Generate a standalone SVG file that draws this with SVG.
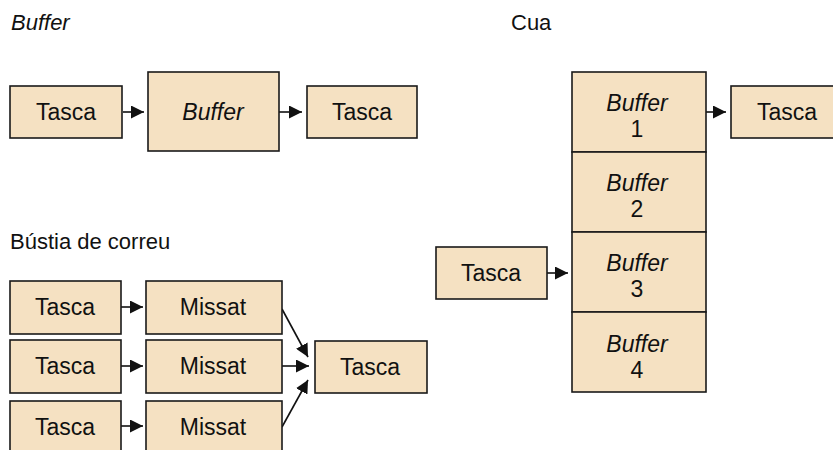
<svg xmlns="http://www.w3.org/2000/svg" width="833" height="450" viewBox="0 0 833 450">
<defs>
<style>
.box{fill:#F5E1C2;stroke:#1a1a1a;stroke-width:1.6}
.t{font-family:"Liberation Sans",Arial,sans-serif;font-size:23px;fill:#111;text-anchor:middle}
.i{font-style:italic}
.ttl{font-family:"Liberation Sans",Arial,sans-serif;font-size:22px;fill:#111}
.c{stroke:#111;stroke-width:1.6;fill:none;marker-end:url(#ah)}
</style>
<marker id="ah" viewBox="0 0 13 13" refX="13" refY="6.5" markerWidth="13" markerHeight="13" markerUnits="userSpaceOnUse" orient="auto">
<path d="M0,0 L13,6.5 L0,13 Z" fill="#111"/>
</marker>
</defs>
<rect width="833" height="450" fill="#fff"/>
<text class="ttl" x="11" y="30" font-style="italic">Buffer</text>
<text class="ttl" x="511" y="30">Cua</text>
<text class="ttl" x="10" y="249">Bústia de correu</text>

<g id="connectors">
<line class="c" x1="123" y1="112" x2="144" y2="112"/>
<line class="c" x1="279" y1="112" x2="302" y2="112"/>
<line class="c" x1="121" y1="307" x2="143" y2="307"/>
<line class="c" x1="121" y1="366" x2="143" y2="366"/>
<line class="c" x1="121" y1="426" x2="143" y2="426"/>
<line class="c" x1="282" y1="309" x2="308" y2="357"/>
<line class="c" x1="282" y1="366" x2="309" y2="366"/>
<line class="c" x1="282" y1="427" x2="308" y2="380"/>
<line class="c" x1="706" y1="112" x2="726" y2="112"/>
<line class="c" x1="547" y1="273" x2="568" y2="273"/>
</g>

<g id="buf-tasca1"><rect class="box" x="10" y="86" width="112" height="52"/><text class="t" x="66" y="120">Tasca</text></g>
<g id="buf-buffer"><rect class="box" x="148" y="72" width="131" height="79"/><text class="t i" x="213" y="120">Buffer</text></g>
<g id="buf-tasca2"><rect class="box" x="307" y="86" width="110" height="52"/><text class="t" x="362" y="120">Tasca</text></g>

<g id="mb-tasca1"><rect class="box" x="10" y="281" width="111" height="53"/><text class="t" x="65" y="315">Tasca</text></g>
<g id="mb-tasca2"><rect class="box" x="10" y="340" width="111" height="53"/><text class="t" x="65" y="374">Tasca</text></g>
<g id="mb-tasca3"><rect class="box" x="10" y="401" width="111" height="53"/><text class="t" x="65" y="435">Tasca</text></g>
<g id="mb-missat1"><rect class="box" x="146" y="281" width="136" height="53"/><text class="t" x="213" y="315">Missat</text></g>
<g id="mb-missat2"><rect class="box" x="146" y="340" width="136" height="53"/><text class="t" x="213" y="374">Missat</text></g>
<g id="mb-missat3"><rect class="box" x="146" y="401" width="136" height="53"/><text class="t" x="213" y="435">Missat</text></g>
<g id="mb-tasca-out"><rect class="box" x="315" y="341" width="112" height="52"/><text class="t" x="370" y="375">Tasca</text></g>

<g id="cua-buffer1"><rect class="box" x="572" y="72" width="134" height="80"/><text class="t i" x="637" y="111">Buffer</text><text class="t" x="637" y="137">1</text></g>
<g id="cua-buffer2"><rect class="box" x="572" y="152" width="134" height="80"/><text class="t i" x="637" y="191">Buffer</text><text class="t" x="637" y="217">2</text></g>
<g id="cua-buffer3"><rect class="box" x="572" y="232" width="134" height="80"/><text class="t i" x="637" y="271">Buffer</text><text class="t" x="637" y="297">3</text></g>
<g id="cua-buffer4"><rect class="box" x="572" y="312" width="134" height="80"/><text class="t i" x="637" y="352">Buffer</text><text class="t" x="637" y="378">4</text></g>
<g id="cua-tasca-out"><rect class="box" x="731" y="86" width="110" height="52"/><text class="t" x="787" y="120">Tasca</text></g>
<g id="cua-tasca-in"><rect class="box" x="436" y="247" width="111" height="52"/><text class="t" x="491" y="281">Tasca</text></g>
</svg>
